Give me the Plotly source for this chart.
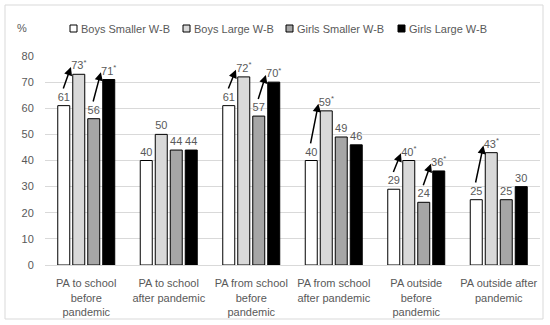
import plotly.graph_objects as go

categories = [
    "PA to school<br>before<br>pandemic",
    "PA to school<br>after pandemic",
    "PA from school<br>before<br>pandemic",
    "PA from school<br>after pandemic",
    "PA outside<br>before<br>pandemic",
    "PA outside after<br>pandemic",
]
series_names = ["Boys Smaller W-B", "Boys Large W-B", "Girls Smaller W-B", "Girls Large W-B"]
boys_smaller = [61, 40, 61, 40, 29, 25]
boys_large = [73, 50, 72, 59, 40, 43]
girls_smaller = [56, 44, 57, 49, 24, 25]
girls_large = [71, 44, 70, 46, 36, 30]
# significance stars per series (True = starred label)
boys_large_star = [True, False, True, True, True, True]
girls_large_star = [True, False, True, False, True, False]
# arrows: (category index, from series index, to series index)
arrows = [(0, 0, 1), (0, 2, 3), (2, 0, 1), (2, 2, 3), (3, 0, 1), (4, 0, 1), (4, 2, 3), (5, 0, 1)]

values = [boys_smaller, boys_large, girls_smaller, girls_large]
stars = [[False] * 6, boys_large_star, [False] * 6, girls_large_star]
colors = ["#ffffff", "#d9d9d9", "#a6a6a6", "#000000"]

FONT = "Liberation Sans, Arial, sans-serif"
GRAY = "#595959"

# plot area in pixels (for converting layout positions to paper coords)
L, R, T, B, W, H = 45, 10, 56, 60, 550, 325
PW, PH = W - L - R, H - T - B


def px(x):
    return (x - L) / PW


def py(y):
    return (H - B - y) / PH


fig = go.Figure()
for name, vals, st, col in zip(series_names, values, stars, colors):
    texts = [f"{v}<sup>*</sup>" if s else f"{v}" for v, s in zip(vals, st)]
    fig.add_trace(go.Bar(
        name=name, x=list(range(len(categories))), y=vals,
        marker=dict(color=col, line=dict(color="#000000", width=1)),
        text=texts, textposition="outside", constraintext="none",
        textfont=dict(color=GRAY, size=11, family=FONT),
        cliponaxis=False, showlegend=False, hoverinfo="skip",
    ))

bargap = 0.273
slot = (1 - bargap) / 4
offsets = [(-1.5 + k) * slot for k in range(4)]

annotations = []
for ci, fi, ti in arrows:
    annotations.append(dict(
        x=ci + offsets[ti] - 0.095, y=values[ti][ci] + 2.75,
        ax=ci + offsets[fi] - 0.012, ay=values[fi][ci] + 6,
        xref="x", yref="y", axref="x", ayref="y",
        text="", showarrow=True, arrowhead=2, arrowsize=1.1, arrowwidth=1.5,
        arrowcolor="#000000",
    ))
annotations.append(dict(
    x=px(22), y=py(28), xref="paper", yref="paper",
    text="%", showarrow=False, font=dict(color=GRAY, size=11, family=FONT),
    xanchor="center", yanchor="middle",
))

shapes = [dict(type="rect", xref="paper", yref="paper",
               x0=px(5), x1=px(543), y0=py(319), y1=py(5),
               line=dict(color="#d9d9d9", width=1), fillcolor="rgba(0,0,0,0)", layer="below")]

# legend (drawn as boxes + text)
legend_x = [70, 183, 286, 398]
for name, col, lx in zip(series_names, colors, legend_x):
    shapes.append(dict(type="rect", xref="paper", yref="paper",
                       x0=px(lx), x1=px(lx + 7), y0=py(32), y1=py(25),
                       line=dict(color="#000000", width=1), fillcolor=col))
    annotations.append(dict(
        x=px(lx + 9), y=py(28.5), xref="paper", yref="paper",
        text=name, showarrow=False, font=dict(color=GRAY, size=11, family=FONT),
        xanchor="left", yanchor="middle",
    ))

fig.update_layout(
    width=W, height=H,
    margin=dict(l=L, r=R, t=T, b=B, autoexpand=False),
    paper_bgcolor="#ffffff", plot_bgcolor="#ffffff",
    barmode="group", bargap=bargap, bargroupgap=0.2,
    font=dict(family=FONT, color=GRAY, size=11),
    showlegend=False,
    xaxis=dict(tickmode="array", tickvals=list(range(len(categories))), ticktext=categories,
               range=[-0.5, len(categories) - 0.5], automargin=False,
               showline=True, linecolor="#d9d9d9", linewidth=1,
               showgrid=False, ticks="outside", ticklen=8, tickcolor="rgba(0,0,0,0)",
               tickfont=dict(size=11, color=GRAY, family=FONT)),
    yaxis=dict(range=[0, 80], dtick=10, showgrid=True, gridcolor="#d9d9d9", gridwidth=1,
               zeroline=False, showline=False, ticks="outside", ticklen=8, automargin=False,
               tickcolor="rgba(0,0,0,0)", tickfont=dict(size=11, color=GRAY, family=FONT)),
    annotations=annotations,
    shapes=shapes,
)

fig.write_html("out.html", config={"displayModeBar": False},
               post_script="document.body.style.margin='0';document.body.style.overflow='hidden';")
